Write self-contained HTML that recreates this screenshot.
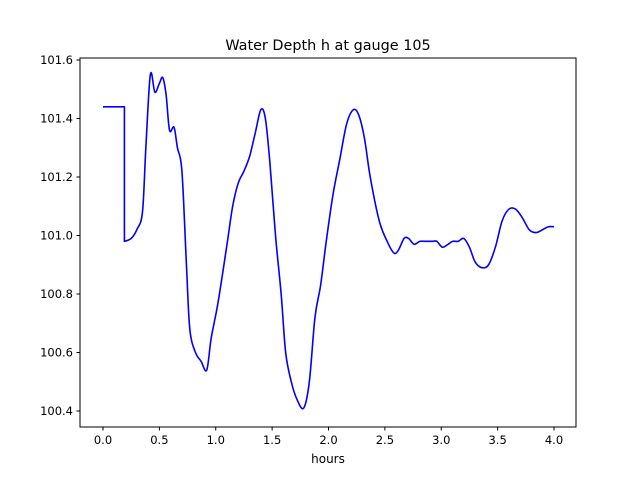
<!DOCTYPE html>
<html><head><meta charset="utf-8"><style>
body{margin:0;background:#fff;}
svg text{font-family:"DejaVu Sans","Liberation Sans",sans-serif;fill:#000;}
</style></head><body>
<svg id="chart" width="640" height="480" xmlns="http://www.w3.org/2000/svg">
<rect width="640" height="480" fill="#fff"/>
<text x="328" y="50" font-size="14.4" text-anchor="middle">Water Depth h at gauge 105</text>
<g id="plot"></g>
<text x="328" y="463" font-size="12" text-anchor="middle">hours</text>
</svg>
<script>
const xTicks=[0.0,0.5,1.0,1.5,2.0,2.5,3.0,3.5,4.0];
const yTicks=[100.4,100.6,100.8,101.0,101.2,101.4,101.6];
const hours=[0.0,0.19,0.19,0.25,0.30,0.35,0.38,0.42,0.46,0.50,0.53,0.56,0.59,0.63,0.66,0.70,0.74,0.77,0.82,0.87,0.92,0.96,1.02,1.1,1.15,1.2,1.25,1.3,1.35,1.4,1.44,1.48,1.53,1.58,1.62,1.67,1.72,1.78,1.83,1.88,1.93,1.98,2.04,2.1,2.16,2.22,2.27,2.32,2.37,2.45,2.52,2.58,2.62,2.67,2.71,2.76,2.81,2.86,2.92,2.96,3.01,3.06,3.1,3.15,3.2,3.25,3.3,3.36,3.42,3.48,3.54,3.6,3.66,3.72,3.78,3.84,3.9,3.95,4.0];
const depth=[101.44,101.44,100.98,100.99,101.02,101.08,101.3,101.55,101.49,101.52,101.54,101.48,101.36,101.37,101.3,101.22,100.9,100.68,100.6,100.57,100.54,100.65,100.77,100.97,101.1,101.18,101.22,101.27,101.35,101.43,101.4,101.25,101.0,100.8,100.6,100.5,100.44,100.41,100.5,100.72,100.83,100.98,101.14,101.26,101.38,101.43,101.41,101.33,101.2,101.05,100.98,100.94,100.95,100.99,100.99,100.97,100.98,100.98,100.98,100.98,100.96,100.97,100.98,100.98,100.99,100.96,100.91,100.89,100.9,100.96,101.05,101.09,101.09,101.06,101.02,101.01,101.02,101.03,101.03];
const L=80,R=576,T=58,B=427;
const xs=h=>103+(h-0)*(554-103)/4;
const ys=v=>60+(101.6-v)*(411-60)/1.2;
const NS="http://www.w3.org/2000/svg";
const g=document.getElementById('plot');
function mk(t,a){const e=document.createElementNS(NS,t);for(const k in a)e.setAttribute(k,a[k]);g.appendChild(e);return e;}
const frame=mk('rect',{x:L,y:T,width:R-L,height:B-T,fill:'none',stroke:'#000','stroke-width':1});


xTicks.forEach(t=>{const x=xs(t);
const tk=mk('line',{x1:x,x2:x,y1:B,y2:B+3.5,stroke:'#000'});


const tx=mk('text',{x:x,y:B+17,'font-size':11.5,'text-anchor':'middle'});tx.textContent=t.toFixed(1);

});
yTicks.forEach(t=>{const y=ys(t);
const tk=mk('line',{x1:L-3.5,x2:L,y1:y,y2:y,stroke:'#000'});


const tx=mk('text',{x:L-7,y:y+4,'font-size':11.5,'text-anchor':'end'});tx.textContent=t.toFixed(1);

});
const P=hours.map((h,i)=>[xs(h),ys(depth[i])]);
function isJump(i){return i>=0&&i<P.length-1&&Math.abs(P[i+1][0]-P[i][0])<1;}
let d='M'+P[0][0]+','+P[0][1];
for(let i=0;i<P.length-1;i++){
  const p1=P[i],p2=P[i+1];
  if(isJump(i)){d+=' L'+p2[0]+','+p2[1];continue;}
  const p0=(i>0&&!isJump(i-1))?P[i-1]:p1;
  const p3=(i+2<P.length&&!isJump(i+1))?P[i+2]:p2;
  const c1=[p1[0]+(p2[0]-p0[0])/6,p1[1]+(p2[1]-p0[1])/6];
  const c2=[p2[0]-(p3[0]-p1[0])/6,p2[1]-(p3[1]-p1[1])/6];
  d+=' C'+c1[0]+','+c1[1]+' '+c2[0]+','+c2[1]+' '+p2[0]+','+p2[1];
}
const pl=mk('path',{d:d,fill:'none',stroke:'#0000ff','stroke-width':1.6,'stroke-linejoin':'round'});


</script>
</body></html>
